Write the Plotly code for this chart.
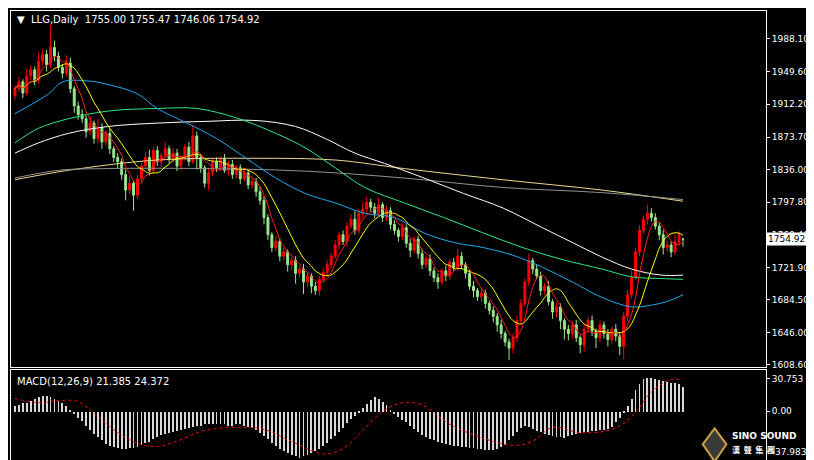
import pandas as pd
from plotly import graph_objs as go

# daily bars (prices)
opens = [1922,1930,1938,1925,1945,1952,1940,1962,1970,1958,1978,
         1968,1955,1948,1960,1930,1910,
         1900,1895,1880,1890,1872,1885,1868,1878,
         1860,1850,1845,1830,1812,1820,1806,
         1825,1840,1850,1835,1858,1845,1852,1860,1848,1855,1840,
         1850,1862,1845,1875,1850,1838,1820,1832,
         1845,1838,1848,1835,1842,1830,1838,1825,1832,1818,1822,1810,
         1800,1780,1760,1745,1752,1735,1740,1725,
         1730,1715,1720,1705,1712,1700,1695,1708,1716,
         1725,1735,1748,1760,1752,1770,1778,1765,1785,
         1790,1798,1792,1785,1795,1780,1788,
         1772,1765,1758,1768,1750,1742,1755,1738,1725,1732,
         1718,1710,1705,1718,1712,1728,1722,
         1735,1725,1715,1700,1695,1688,
         1692,1680,1672,1665,1655,1645,1635,1628,
         1640,1660,1680,1705,1730,1720,
         1712,1695,1700,1682,1670,1676,1660,
         1650,1645,1655,1640,1632,1650,1660,1648,1640,
         1655,1645,1638,1650,1642,1630,1665,
         1690,1710,1740,1765,1778,
         1785,1780,1770,1760,1745,1748,1740,1752,1755.00]
closes = [1930,1938,1925,1945,1952,1940,1962,1970,1958,1978,1968,
          1955,1948,1960,1930,1910,1900,
          1895,1880,1890,1872,1885,1868,1878,1860,
          1850,1845,1830,1812,1820,1806,1825,
          1840,1850,1835,1858,1845,1852,1860,1848,1855,1840,1850,
          1862,1845,1875,1850,1838,1820,1832,1845,
          1838,1848,1835,1842,1830,1838,1825,1832,1818,1822,1810,1800,
          1780,1760,1745,1752,1735,1740,1725,1730,
          1715,1720,1705,1712,1700,1695,1708,1716,1725,
          1735,1748,1760,1752,1770,1778,1765,1785,1790,
          1798,1792,1785,1795,1780,1788,1772,
          1765,1758,1768,1750,1742,1755,1738,1725,1732,1718,
          1710,1705,1718,1712,1728,1722,1735,
          1725,1715,1700,1695,1688,1692,
          1680,1672,1665,1655,1645,1635,1628,1640,
          1660,1680,1705,1730,1720,1712,
          1695,1700,1682,1670,1676,1660,1650,
          1645,1655,1640,1632,1650,1660,1648,1640,1655,
          1645,1638,1650,1642,1630,1665,1690,
          1710,1740,1765,1778,1785,
          1780,1770,1760,1745,1748,1740,1752,1760,1754.92]
wick_hi = [4,6,3,8,5,4,10,6,5,27,8, 5,4,9,6,3,5, 6,4,8,3,10,5,4,6,
           3,5,4,6,8,3,5, 4,6,9,4,5,3,8,4,6,5,3, 4,6,12,5,4,3,6,4,
           5,3,6,4,5,3,4,6,3,5,4,6, 5,4,3,6,4,5,3,4,
           5,3,6,4,3,5,4,6,5, 4,6,3,5,4,6,10,5,8,
           6,4,5,8,3,6,4, 5,3,6,4,5,3,4,6,3,5,
           4,5,3,6,4,5,8, 5,3,4,6,3,5, 4,3,5,4,6,3,4,5,
           6,5,4,8,3,6, 5,4,6,3,5,4,3, 5,4,6,3,5,4,6,3,5,
           4,5,3,6,4,5,6, 8,5,6,4,10, 6,5,4,6,5,4,8,4,0.47]
wick_lo = [5,4,6,3,5,6,4,5,8,4,6, 5,6,4,5,8,6, 5,7,4,6,5,8,4,6,
           5,8,6,12,5,18,4, 5,3,6,4,5,6,3,5,4,6,5, 4,5,3,14,6,5,8,4,
           5,4,3,6,5,4,6,3,5,4,6,5, 8,6,5,4,6,5,8,6,
           12,5,14,6,8,5,6,4,5, 4,3,5,4,6,3,5,4,6,
           4,5,6,3,5,4,6, 5,6,4,5,8,4,6,5,4,6,
           5,8,4,6,5,4,3, 5,6,4,8,5,6, 6,5,7,8,6,5,14,6,
           5,4,3,5,6,4, 6,5,4,8,6,10,12, 8,6,5,10,8,4,6,12,5,
           6,8,5,6,10,15,5, 4,3,5,4,6, 5,4,6,8,5,6,4,5,8.86]
bars = list(range(len(closes)))

# long moving averages, sampled (bar index, price)
ma_blue_x = [0,8.5,12,18.5,23.5,31,36,43.5,51,58.5,66,73.5,81,88.5,96,103.5,111,118.5,126,133.5,141,148.5,156,161,164.75,169]
ma_blue_y = [1901,1924,1938,1939,1935,1924,1907,1890,1872,1849,1826,1808,1797,1785,1780,1762,1751,1745,1736,1722,1705,1687,1676,1678,1682,1690]
ma_green_x = [0,6,13.5,23.5,36,46,56,66,73.5,81,88.5,98.5,108.5,118.5,128.5,138.5,148.5,156,163.5,169]
ma_green_y = [1867,1884,1895,1904,1907,1907,1896,1878,1861,1838,1815,1797,1780,1762,1745,1731,1720,1711,1709,1708]
ma_white_x = [0,6,13.5,23.5,36,48.5,61,71,78.5,86,93.5,103.5,113.5,123.5,133.5,141,148.5,156,163.5,169]
ma_white_y = [1855,1867,1878,1886,1890,1892,1893,1886,1872,1855,1843,1826,1808,1791,1768,1751,1734,1720,1713,1713]
ma_gray_x = [0,11,23.5,48.5,73.5,98.5,123.5,148.5,169]
ma_gray_y = [1826,1835,1837,1837,1834,1826,1815,1809,1801]
ma_khaki_x = [0,13.5,36,61,81,98.5,123.5,148.5,169]
ma_khaki_y = [1824,1835,1847,1849,1847,1837,1824,1812,1799]

# MACD(12,26,9)
macd_hist = [5,6,8,8,10,12,14,15,15,14,12,10,8,5,
             2,-2,-6,
             -9,-13,-17,-21,-24,-27,-30,-32,-33,-34,-35,-35,-34,-34,-33,-31,
             -29,-28,-26,-24,-22,-21,-20,-19,-18,-17,-16,-15,-14,-13,-13,-12,-12,
             -12,-12,-12,-12,-13,-13,-12,-12,-13,-14,-15,-17,
             -20,-23,-26,-29,-32,-35,-37,-39,-41,-42,-43,-42,-41,
             -39,-37,-35,-32,-29,-26,-23,-19,-15,-11,-7,-4,-1,
             3,7,11,14,12,9,6,2,
             -2,-5,-8,-10,-13,-16,-19,-22,
             -24,-26,-27,-28,-29,-30,-31,-32,-32,-33,-33,-34,-34,-35,-35,-36,-36,-36,-35,-33,-31,
             -27,-23,-19,-15,-13,-14,-16,
             -18,-19,-21,-22,-23,-24,-24,-25,
             -23,-22,-21,-20,-19,-19,-18,-18,-17,-17,-16,-14,-10,-6,
             -1,5,12,20,26,31,32,
             32,31,30,29,28,27,27,26,23]
signal_x = [0,6,11,16,21,26,31,36,41,48,58,63,71,78,83,88,93,98,103,110,116,126,131,136,143,151,156,161,166,169]
signal_y = [12,8,10,9,-5,-20,-30,-33,-28,-18,-15,-17,-30,-40,-35,-18,0,8,6,-12,-22,-32,-28,-15,-20,-17,-5,18,30,29]

price_ticks = [1988.10,1949.60,1912.20,1873.70,1836.00,1797.80,1760.40,1721.90,1684.50,1646.00,1608.60]
macd_ticks = [30.753,0.0,-37.983]
macd_labels = ["30.753","0.00","-37.983"]

fig = go.Figure()
fig.add_trace(go.Candlestick(
    x=bars, open=opens, close=closes,
    high=[max(o, c) + w for o, c, w in zip(opens, closes, wick_hi)],
    low=[min(o, c) - w for o, c, w in zip(opens, closes, wick_lo)],
    increasing=dict(line=dict(color="#ff0000", width=1), fillcolor="#ff0000"),
    decreasing=dict(line=dict(color="#98e88c", width=1), fillcolor="#98e88c"),
    whiskerwidth=0, showlegend=False, hoverinfo="skip"))

cs = pd.Series(closes)
ma_lines = [
    (ma_khaki_x, ma_khaki_y, "#e8d890"),
    (ma_gray_x, ma_gray_y, "#909090"),
    (ma_white_x, ma_white_y, "#ffffff"),
    (ma_green_x, ma_green_y, "#2ee87a"),
    (ma_blue_x, ma_blue_y, "#1fa8f0"),
    (bars, cs.rolling(10, min_periods=1).mean(), "#ffff00"),
    (bars, cs.rolling(5, min_periods=1).mean(), "#ff2020"),
]
for mx, my, col in ma_lines:
    fig.add_trace(go.Scatter(x=mx, y=my, mode="lines", line=dict(color=col, width=1),
                             line_shape="spline", showlegend=False, hoverinfo="skip"))

fig.add_trace(go.Bar(x=bars, y=macd_hist, marker=dict(color="#d8d8d8", line=dict(width=0)),
                     width=0.22, xaxis="x2", yaxis="y2", showlegend=False, hoverinfo="skip"))
fig.add_trace(go.Scatter(x=signal_x, y=signal_y, mode="lines", line=dict(color="#ff0000", width=1, dash="dot"),
                         line_shape="spline", xaxis="x2", yaxis="y2", showlegend=False, hoverinfo="skip"))

# logo diamond
fig.add_shape(type="path", xref="x2", yref="y2",
              path="M 177 -16 L 180 -31 L 177 -47 L 174 -31 Z",
              line=dict(color="#c8a040", width=2), fillcolor="#3a3a3a")

axis_common = dict(showgrid=False, zeroline=False, showline=True, mirror=True, linecolor="#ffffff",
                   linewidth=1, fixedrange=True)
fig.update_layout(
    width=814, height=460,
    margin=dict(l=3, r=56, t=2, b=3),
    paper_bgcolor="#000000", plot_bgcolor="#000000",
    font=dict(family="DejaVu Sans", size=9, color="#ffffff"),
    bargap=0,
    xaxis=dict(axis_common, range=[-1, 190], showticklabels=False, domain=[0, 1],
               rangeslider=dict(visible=False), anchor="y"),
    yaxis=dict(axis_common, range=[1606.3, 2020.5], domain=[0.213, 1], side="right",
               tickvals=price_ticks, ticktext=["%.2f" % t for t in price_ticks],
               ticks="outside", ticklen=3, tickcolor="#ffffff"),
    xaxis2=dict(axis_common, range=[-1, 190], showticklabels=False, matches="x", anchor="y2"),
    yaxis2=dict(axis_common, range=[-48.5, 39.1], domain=[0, 0.2066], side="right",
                tickvals=macd_ticks, ticktext=macd_labels, ticks="outside", ticklen=3, tickcolor="#ffffff"),
)

fig.add_annotation(x=0.005, y=0.998, xref="paper", yref="paper", xanchor="left", yanchor="top",
                   text="▼  LLG,Daily  1755.00 1755.47 1746.06 1754.92", showarrow=False,
                   font=dict(size=10, color="#ffffff"))
fig.add_annotation(x=0.005, y=0.198, xref="paper", yref="paper", xanchor="left", yanchor="top",
                   text="MACD(12,26,9) 21.385 24.372", showarrow=False, font=dict(size=10, color="#ffffff"))
fig.add_annotation(x=1.0, y=closes[-1], xref="paper", yref="y", xanchor="left", yanchor="middle",
                   text="1754.92", showarrow=False, bgcolor="#ffffff", borderpad=1,
                   font=dict(size=9, color="#000000"))
fig.add_annotation(x=181, y=-23, xref="x2", yref="y2", xanchor="left", yanchor="middle",
                   text="<b>SINO SOUND</b>", showarrow=False, font=dict(size=9, color="#ffffff"))
fig.add_annotation(x=181, y=-36, xref="x2", yref="y2", xanchor="left", yanchor="middle",
                   text="<b>漢  聲  集  團</b>", showarrow=False,
                   font=dict(family="Noto Sans CJK TC", size=8, color="#ffffff"))

fig.write_html("out.html")
